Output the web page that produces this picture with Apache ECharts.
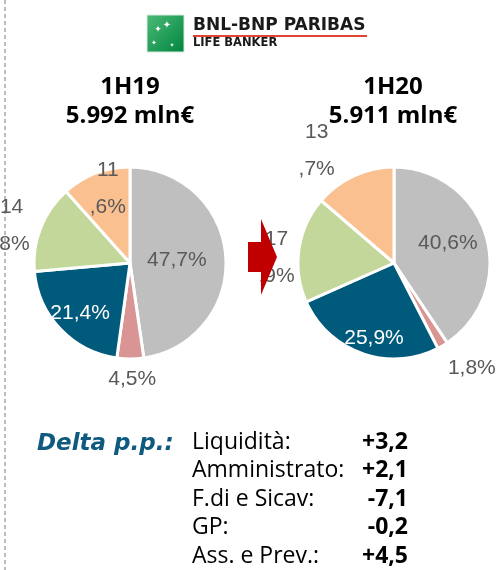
<!DOCTYPE html>
<html>
<head>
<meta charset="utf-8">
<script src="https://cdn.jsdelivr.net/npm/echarts@6/dist/echarts.min.js"></script>
<style>
  html, body { margin: 0; padding: 0; background: #fff; }
  #chart { width: 499px; height: 570px; }
</style>
</head>
<body>
<div id="chart"></div>
<script>
  // categorie (ordine orario a partire da ore 12)
  const categories = ['F.di e Sicav', 'GP', 'Ass. e Prev.', 'Liquidità', 'Amministrato'];
  const colors = ['#bfbfbf', '#d99594', '#005a7c', '#c4d79b', '#fac090'];
  const labelColors = ['#595959', '#595959', '#ffffff', '#595959', '#595959'];

  const periods = ['1H19', '1H20'];
  const totals = ['5.992 mln€', '5.911 mln€'];
  const share1H19 = [47.7, 4.5, 21.4, 14.8, 11.6];
  const share1H20 = [40.6, 1.8, 25.9, 17.9, 13.7];
  // etichette spezzate su due righe nell'originale
  const wrapped = [false, false, false, true, true];

  const deltaTitle = 'Delta p.p.:';
  const deltaLabels = ['Liquidità:', 'Amministrato:', 'F.di e Sicav:', 'GP:', 'Ass. e Prev.:'];
  const deltaValues = ['+3,2', '+2,1', '-7,1', '-0,2', '+4,5'];

  // spostamento delle etichette rispetto alla posizione "inside"
  const labelShift = [
    [[-4, 1], [2, 65], [-13, 15], [-71, -19], [-4, -27]],
    [[5, -5], [52, 61], [-3, 27], [-67, 2], [-56, -66]]
  ];

  const chart = echarts.init(document.getElementById('chart'));

  function fmt(v, i) {
    const s = v.toFixed(1).replace('.', ',') + '%';
    if (wrapped[i]) {
      const k = s.indexOf(',');
      return s.slice(0, k) + '\n' + s.slice(k);
    }
    return s;
  }

  function pieSeries(values, idx, center) {
    return {
      type: 'pie',
      center: center,
      radius: 96,
      startAngle: 90,
      clockwise: true,
      avoidLabelOverlap: false,
      animation: false,
      silent: true,
      itemStyle: { borderColor: '#fff', borderWidth: 3 },
      label: {
        show: true,
        position: 'inside',
        fontFamily: 'Liberation Sans',
        fontSize: 21,
        lineHeight: 37,
        formatter: function (p) { return fmt(p.value, p.dataIndex); }
      },
      labelLine: { show: false },
      labelLayout: function (p) {
        const o = labelShift[idx][p.dataIndex];
        return { dx: o[0], dy: o[1] };
      },
      data: values.map(function (v, i) {
        return {
          name: categories[i],
          value: v,
          itemStyle: { color: colors[i] },
          label: { color: labelColors[i] }
        };
      })
    };
  }

  const graphics = [];

  // linea tratteggiata a sinistra
  graphics.push({
    type: 'line', z: 1,
    shape: { x1: 5, y1: 0, x2: 5, y2: 570 },
    style: { stroke: '#a6a6a6', lineWidth: 1.5, lineDash: [4, 3] }
  });

  // logo
  graphics.push({
    type: 'rect', z: 10,
    shape: { x: 147, y: 15, width: 37, height: 37 },
    style: {
      fill: new echarts.graphic.LinearGradient(0, 0, 1, 1, [
        { offset: 0, color: '#4cbb77' },
        { offset: 1, color: '#00843f' }
      ]),
      stroke: '#d9e8dd', lineWidth: 1
    }
  });
  [[167, 25, 10], [158, 30, 9], [154, 43, 7], [172, 45, 6]].forEach(function (s) {
    graphics.push({
      type: 'text', z: 11,
      style: { text: '✦', x: s[0], y: s[1], fill: '#fff', font: s[2] + 'px DejaVu Sans', align: 'center', verticalAlign: 'middle' }
    });
  });
  graphics.push({
    type: 'text', z: 10,
    style: { text: 'BNL-BNP PARIBAS', x: 193, y: 26, fill: '#1a1a1a', font: 'bold 17px DejaVu Sans', align: 'left', verticalAlign: 'middle' }
  });
  graphics.push({
    type: 'line', z: 10,
    shape: { x1: 193, y1: 36, x2: 367, y2: 36 },
    style: { stroke: '#e2452f', lineWidth: 2 }
  });
  graphics.push({
    type: 'text', z: 10,
    style: { text: 'LIFE BANKER', x: 193, y: 43, fill: '#1a1a1a', font: 'bold 11.5px DejaVu Sans', align: 'left', verticalAlign: 'middle' }
  });

  // titoli
  [130, 393].forEach(function (cx, i) {
    graphics.push({
      type: 'text', z: 10,
      style: { text: periods[i], x: cx, y: 87, fill: '#000', font: 'bold 24px Open Sans', align: 'center', verticalAlign: 'middle' }
    });
    graphics.push({
      type: 'text', z: 10,
      style: { text: totals[i], x: cx, y: 116, fill: '#000', font: 'bold 24px Open Sans', align: 'center', verticalAlign: 'middle' }
    });
  });

  // freccia rossa
  graphics.push({
    type: 'polygon', z: 100,
    shape: { points: [[248, 242], [261, 242], [261, 219], [277, 257], [261, 295], [261, 272], [248, 272]] },
    style: { fill: '#c00000' }
  });

  // tabella delta
  graphics.push({
    type: 'text', z: 10,
    style: { text: deltaTitle, x: 37, y: 444, fill: '#0f5a7e', font: 'italic bold 23px DejaVu Sans', align: 'left', verticalAlign: 'middle' }
  });
  deltaLabels.forEach(function (t, i) {
    const y = 442 + i * 28.5;
    graphics.push({
      type: 'text', z: 10,
      style: { text: t, x: 192, y: y, fill: '#000', font: '23px Open Sans', align: 'left', verticalAlign: 'middle' }
    });
    graphics.push({
      type: 'text', z: 10,
      style: { text: deltaValues[i], x: 408, y: y, fill: '#000', font: 'bold 23px Open Sans', align: 'right', verticalAlign: 'middle' }
    });
  });

  chart.setOption({
    backgroundColor: '#fff',
    animation: false,
    series: [
      pieSeries(share1H19, 0, [130, 263]),
      pieSeries(share1H20, 1, [394, 263])
    ],
    graphic: graphics
  });
</script>
</body>
</html>
